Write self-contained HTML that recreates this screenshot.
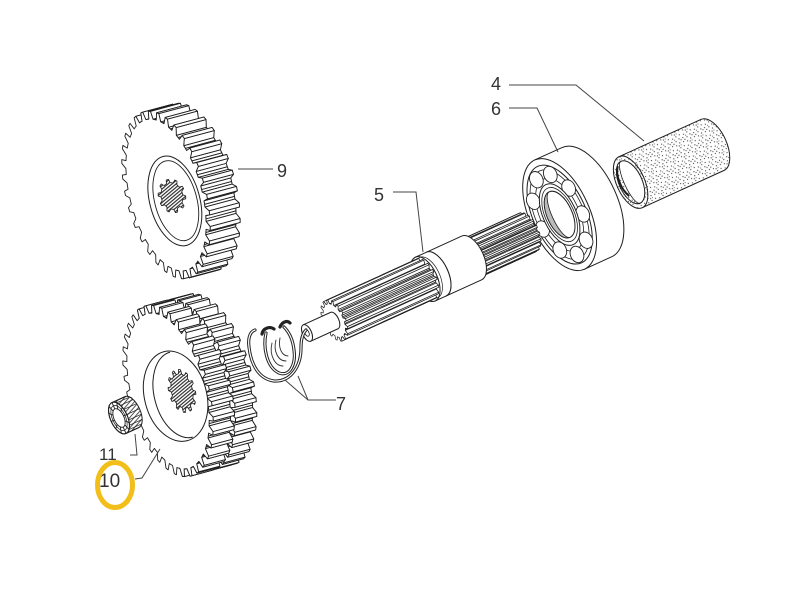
<!DOCTYPE html>
<html><head><meta charset="utf-8">
<style>
html,body{margin:0;padding:0;background:#fff;}
svg{display:block;}
text{font-family:"Liberation Sans",Arial,sans-serif;fill:#333;}
</style></head>
<body>
<svg id="art" width="800" height="605" viewBox="0 0 800 605" xmlns="http://www.w3.org/2000/svg">
<defs>
<pattern id="stip" width="12" height="12" patternUnits="userSpaceOnUse">
<rect width="12" height="12" fill="#fff"/>
<circle cx="1" cy="1" r="0.6" fill="#444"/><circle cx="5" cy="2.2" r="0.6" fill="#444"/>
<circle cx="9" cy="1.5" r="0.6" fill="#444"/><circle cx="3" cy="5" r="0.6" fill="#444"/>
<circle cx="7.2" cy="6" r="0.6" fill="#444"/><circle cx="11" cy="4.6" r="0.6" fill="#444"/>
<circle cx="2" cy="9" r="0.6" fill="#444"/><circle cx="6" cy="10" r="0.6" fill="#444"/>
<circle cx="10" cy="8.6" r="0.6" fill="#444"/><circle cx="4.2" cy="7.5" r="0.6" fill="#444"/>
<circle cx="8.4" cy="11.2" r="0.6" fill="#444"/><circle cx="0.6" cy="6.2" r="0.6" fill="#444"/>
<circle cx="10.5" cy="11" r="0.5" fill="#444"/><circle cx="6.5" cy="4" r="0.5" fill="#444"/>
</pattern>
<pattern id="hatch" width="2.6" height="2.6" patternUnits="userSpaceOnUse" patternTransform="rotate(65)">
<rect width="2.6" height="2.6" fill="#fff"/>
<line x1="0.6" y1="0" x2="0.6" y2="2.6" stroke="#333" stroke-width="1.2"/>
</pattern>
<pattern id="hatch2" width="3.4" height="3.4" patternUnits="userSpaceOnUse" patternTransform="rotate(-24.5)">
<rect width="3.4" height="3.4" fill="#fff"/>
<line x1="0" y1="1" x2="3.4" y2="1" stroke="#444" stroke-width="0.9"/>
</pattern>
</defs>

<g id="parts"></g>

<g id="clips" fill="none" stroke-linecap="round" stroke-linejoin="round">
<g stroke="#222" stroke-width="3.2">
<path d="M255,330 C249,332 248,340 249,347 C251,365 259,379 274,381 C291,382 301,366 301,348 C301,340 302,334 306,330"/>
<path d="M262,334 C263,328 270,326 274,329"/>
<path d="M266,333 C263,346 266,367 279,373 C290,377 296,364 294,350 C293,341 290,333 284,327"/>
<path d="M280,327 C282,322 287,320 290,323"/>
</g>
<g stroke="#fff" stroke-width="1.2">
<path d="M255,330 C249,332 248,340 249,347 C251,365 259,379 274,381 C291,382 301,366 301,348 C301,340 302,334 306,330"/>
<path d="M266,333 C263,346 266,367 279,373 C290,377 296,364 294,350 C293,341 290,333 284,327"/>
</g>
<g stroke="#333" stroke-width="0.9">
<path d="M272,343 C269,355 275,366 283,366"/>
<path d="M276,340 C273,351 278,361 286,361"/>
<path d="M280,338 C278,348 282,356 288,356"/>
</g>
</g>

<g id="leaders" fill="none" stroke="#444" stroke-width="1">
<polyline points="509,85 576,85 644,141"/>
<polyline points="509,108 537,108 558,152"/>
<polyline points="393,192 416,192 423,252"/>
<polyline points="238,169 273,169"/>
<polyline points="336,400 308,400 285,380"/>
<polyline points="308,400 298,376"/>
<polyline points="130,455 137,455 135,434"/>
<polyline points="135,479 142,478 160,449"/>
</g>

<g id="labels" font-size="18">
<text x="491" y="90">4</text>
<text x="491" y="115">6</text>
<text x="374" y="201">5</text>
<text x="277" y="177">9</text>
<text x="336" y="410">7</text>
<text x="99" y="460" font-size="17">11</text>
<text x="99" y="487" font-size="19">10</text>
</g>
<ellipse cx="115" cy="485" rx="17.5" ry="22.5" fill="none" stroke="#F2BE1A" stroke-width="5"/>
</svg>

<script>
(function(){
const NS='http://www.w3.org/2000/svg', S='#1e1e1e';
const root=document.getElementById('parts');
function el(tag,a,p){const e=document.createElementNS(NS,tag);for(const k in a)e.setAttribute(k,a[k]);p.appendChild(e);return e;}
function grp(p,tr){return el('g',{transform:tr},p);}
const A=-24.5, GA=-15;
const f1=v=>v.toFixed(1);
const pts=a=>a.map(p=>f1(p[0])+','+f1(p[1])).join(' ');
function profile(n,rt,rr,phase){
  const shape=[[0,0],[0.18,0],[0.34,1],[0.6,1],[0.76,0]];
  const out=[],st=2*Math.PI/n;
  for(let i=0;i<n;i++)for(const s of shape)out.push([phase+(i+s[0])*st,s[1]?rt:rr]);
  return out;
}
function toothed(p,ox,oy,k,rt,rr,n,depth,phase,sw,frontFill){
  sw=sw||0.9;
  const pr=profile(n,rt,rr,phase||0);
  const F=pr.map(q=>[ox+k*q[1]*Math.cos(q[0]),oy+q[1]*Math.sin(q[0])]);
  const st={fill:'#fff',stroke:S,'stroke-width':sw,'stroke-linejoin':'round'};
  if(depth>0){
    const B=F.map(q=>[q[0]+depth,q[1]]);
    el('polygon',Object.assign({points:pts(B)},st),p);
    const Q=[];
    for(let i=0;i<F.length;i++){
      const j=(i+1)%F.length;
      const key=pr[i][1]*Math.cos(pr[i][0])+pr[j][1]*Math.cos(pr[j][0]);
      if(key>-0.5*rt)Q.push([key,[F[i],F[j],B[j],B[i]]]);
    }
    Q.sort((a,b)=>a[0]-b[0]);
    for(const q of Q)el('polygon',Object.assign({points:pts(q[1])},st),p);
  }
  const fs=Object.assign({points:pts(F)},st);
  if(frontFill)fs.fill=frontFill;
  el('polygon',fs,p);
}
function cyl(p,u0,u1,r,k,body,face,sw){
  const rx=k*r; sw=sw||1;
  el('path',{d:`M${u0},${-r} L${u1},${-r} A${rx},${r} 0 0 1 ${u1},${r} L${u0},${r} Z`,fill:body||'#fff',stroke:S,'stroke-width':sw},p);
  el('ellipse',{cx:u0,cy:0,rx:rx,ry:r,fill:face||'#fff',stroke:S,'stroke-width':sw},p);
}
function E(p,cx,cy,rx,ry,fill,sw){return el('ellipse',{cx:cx,cy:cy,rx:rx,ry:ry,fill:fill||'none',stroke:S,'stroke-width':sw||1},p);}
function surfLines(p,u0,u1,r,k,step,sw){
  for(let a=-80;a<=80;a+=step){
    const t=a*Math.PI/180, x=k*r*Math.cos(t), y=r*Math.sin(t);
    el('line',{x1:f1(u0+x),y1:f1(y),x2:f1(u1+x),y2:f1(y),stroke:S,'stroke-width':sw||0.7},p);
  }
}

/* ---- shaft assembly frame ---- */
const sg=grp(root,`translate(307,333) rotate(${A})`);

/* tube 4 */
const tg=grp(sg,'translate(0,-3)');
cyl(tg,357,447,28,0.5,'url(#stip)','url(#stip)');
E(tg,357,0,11.5,23,'#fff',1);
el('path',{d:'M357,-23 A11.5,23 0 0 0 357,23 A6,22 0 0 1 357,-23 Z',fill:'url(#stip)',stroke:S,'stroke-width':0.8},tg);
el('path',{d:'M352,-20 A10,20 0 0 0 350,12',fill:'none',stroke:S,'stroke-width':2},tg);

/* bearing 6 */
const bg=grp(sg,'translate(0,-3)');
cyl(bg,279,309,60,0.5,'#fff','#fff');
E(bg,279,0,26.5,53,'#fff',1);
E(bg,279,0,24,48,'none',0.8);
E(bg,279,0,19.5,39,'none',0.8);
for(let i=0;i<9;i++){
  const t=(i*40+12)*Math.PI/180;
  E(bg,279+0.5*43.5*Math.cos(t),43.5*Math.sin(t),6.5,8.5,'#fff',0.9);
}
E(bg,279,0,16.5,33,'#fff',1);
E(bg,279,0,14.5,29,'none',0.8);
E(bg,279,0,12.5,25,'#fff',1);
el('path',{d:'M279,-25 A12.5,25 0 0 0 279,25 A7,23 0 0 1 279,-25 Z',fill:'#bbb',stroke:S,'stroke-width':0.8},bg);

/* shaft 5 */
toothed(sg,181,0,0.5,21,18,18,62,0.1,0.7);
cyl(sg,142,181,24,0.5);
cyl(sg,130,142,24,0.5);
E(sg,134,0,11,22,'none',0.7);
toothed(sg,30,0,0.5,22,18,16,100,0,0.7);
cyl(sg,0,30,9,0.5);
E(sg,0,0,2,3.5,'#fff',0.8);

/* gear 9 */
let g=grp(root,`translate(166,195) rotate(${GA})`);
toothed(g,0,0,0.46,86,78,32,31,0.05,0.9);
E(g,7,8,25,46,'#fff',1);
E(g,8,8,21,41,'none',0.9);
toothed(g,5.5,2.5,0.8,17,13.5,10,0,0,0.8,'url(#hatch)');

/* gear 10 (double) */
g=grp(root,`translate(168,391) rotate(${GA})`);
toothed(g,23,0,0.46,88,80,34,22,0.09,0.9);
toothed(g,0,0,0.46,88,80,34,22,0,0.9);
E(g,6,7,31,46,'#fff',1);
el('path',{d:'M12,-37 A27,44 0 0 0 12,51',fill:'none',stroke:S,'stroke-width':1},g);
toothed(g,13.5,3.6,0.6,22,17.5,12,0,0,0.8,'url(#hatch)');

/* roller 11 */
const rg=grp(root,`translate(119,418) rotate(${A})`);
cyl(rg,0,14,17,0.5,'url(#hatch2)','#fff',1);
surfLines(rg,0,14,17,0.5,20,0.7);
for(let a=0;a<360;a+=30){
  const t=a*Math.PI/180;
  el('line',{x1:f1(0.5*10*Math.cos(t)),y1:f1(10*Math.sin(t)),x2:f1(0.5*17*Math.cos(t)),y2:f1(17*Math.sin(t)),stroke:S,'stroke-width':0.9},rg);
}
E(rg,0,0,8.5,17,'none',1);
E(rg,0,0,5,10,'#fff',0.9);
E(rg,0,0,6.5,13.5,'none',0.7);
})();
</script>
</body></html>
